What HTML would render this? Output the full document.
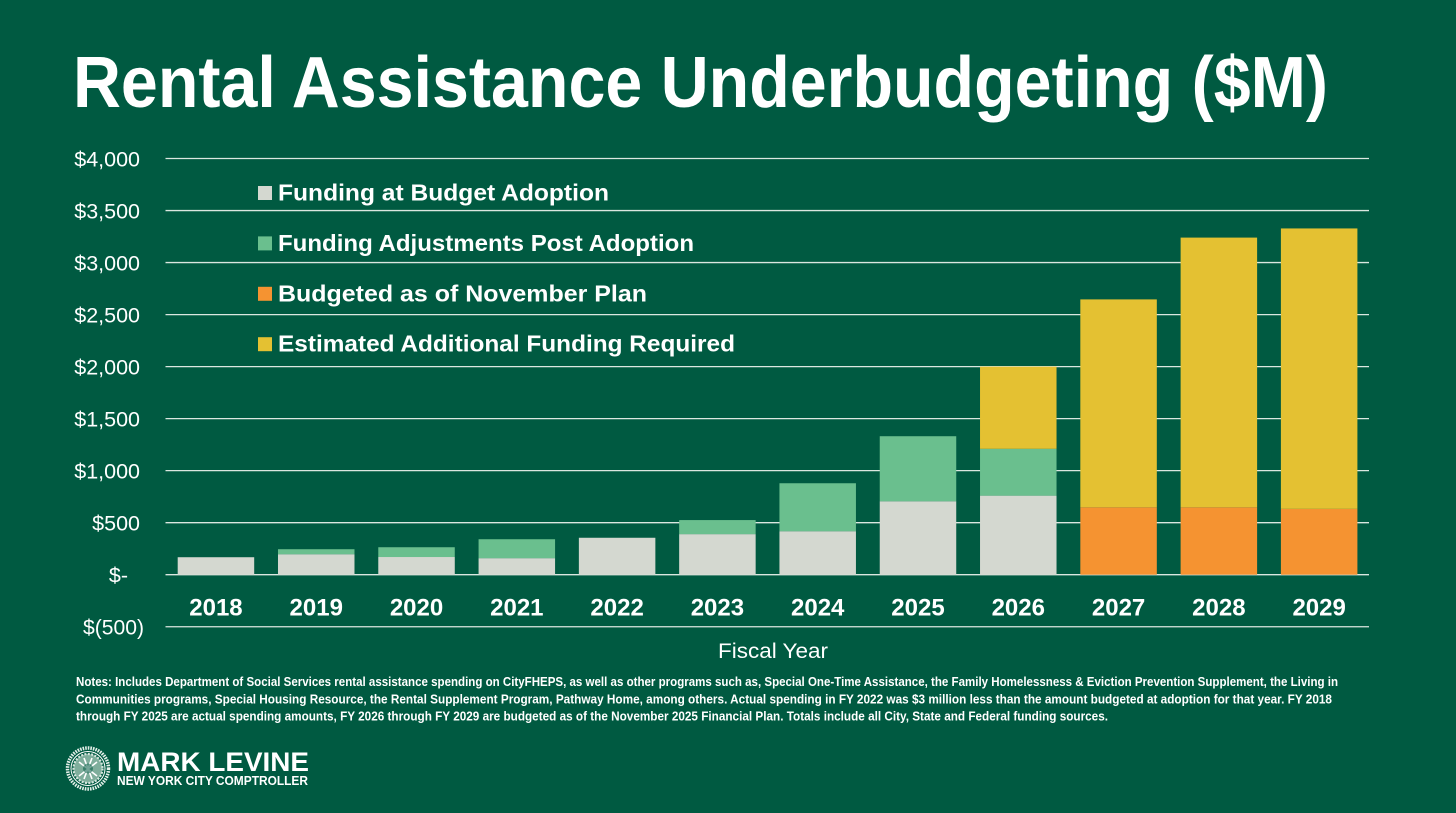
<!DOCTYPE html>
<html lang="en">
<head>
<meta charset="utf-8">
<title>Rental Assistance Underbudgeting ($M)</title>
<style>
  html, body { margin: 0; padding: 0; background: #005a41; }
  body { width: 1456px; height: 813px; overflow: hidden; }
  svg { display: block; }
  text { font-family: "Liberation Sans", sans-serif; fill: #ffffff; }
</style>
</head>
<body>
<svg id="slide" width="1456" height="813" viewBox="0 0 1456 813" xmlns="http://www.w3.org/2000/svg">
  <rect x="0" y="0" width="1456" height="813" fill="#005a41"/>
  <text x="73" y="107" font-size="72" font-weight="700" textLength="1255" lengthAdjust="spacingAndGlyphs">Rental Assistance Underbudgeting ($M)</text>

  <g id="grid"></g>
  <g id="yaxis"></g>
  <g id="bars"></g>
  <g id="xaxis"></g>
  <g id="legend"></g>

  <text x="773" y="658" font-size="21" text-anchor="middle" textLength="110" lengthAdjust="spacingAndGlyphs">Fiscal Year</text>

  <g font-size="12.5" font-weight="700" style="white-space:pre">
    <text x="76" y="686" textLength="1262" lengthAdjust="spacingAndGlyphs">Notes: Includes Department of Social Services rental assistance spending on CityFHEPS, as well as other programs such as, Special One-Time Assistance, the Family Homelessness &amp; Eviction Prevention Supplement, the Living in</text>
    <text x="76" y="703.5" textLength="1256" lengthAdjust="spacingAndGlyphs">Communities programs, Special Housing Resource, the Rental Supplement Program, Pathway Home, among others. Actual spending in FY 2022 was $3 million less than the amount budgeted at adoption for that year.  FY 2018</text>
    <text x="76" y="720.5" textLength="1032" lengthAdjust="spacingAndGlyphs">through FY 2025  are actual spending amounts, FY 2026 through FY 2029 are budgeted as of the November 2025 Financial Plan. Totals include all City, State and Federal funding sources.</text>
  </g>

  <g>
    <circle cx="88" cy="768.5" r="20.5" fill="none" stroke="#e4efe9" stroke-width="3.5" stroke-dasharray="1.6 1"/>
    <circle cx="88" cy="768.5" r="17" fill="none" stroke="#ffffff" stroke-width="1"/>
    <circle cx="88" cy="768.5" r="14.5" fill="#7fae9c" stroke="#d6e6de" stroke-width="2.2" stroke-dasharray="2 1.4"/>
    <path d="M79 762 L97 776 M97 762 L79 776 M84 758 L92 779 M92 758 L84 779" stroke="#ffffff" stroke-width="1.6" fill="none"/>
    <circle cx="88" cy="768.5" r="5" fill="#005a41" opacity="0.55"/>
  </g>
  <text x="117" y="771" font-size="27" font-weight="700" textLength="192" lengthAdjust="spacingAndGlyphs">MARK LEVINE</text>
  <text x="117" y="785" font-size="12.5" font-weight="700" textLength="191" lengthAdjust="spacingAndGlyphs">NEW YORK CITY COMPTROLLER</text>
</svg>

<script>
const fiscalYears = ['2018','2019','2020','2021','2022','2023','2024','2025','2026','2027','2028','2029'];
const fundingAtAdoption = [168,197,170,159,355,390,418,706,760,0,0,0];
const fundingAdjustments = [0,48,94,182,0,135,461,625,450,0,0,0];
const budgetedNovemberPlan = [0,0,0,0,0,0,0,0,0,648,648,633];
const additionalRequired = [0,0,0,0,0,0,0,0,790,1998,2592,2695];
const yTickValues = [4000,3500,3000,2500,2000,1500,1000,500,0,-500];
const yTickLabels = ['$4,000','$3,500','$3,000','$2,500','$2,000','$1,500','$1,000','$500','$-','$(500)'];
const legendLabels = ['Funding at Budget Adoption','Funding Adjustments Post Adoption','Budgeted as of November Plan','Estimated Additional Funding Required'];
const legendWidths = [331,416,369,457];

const SVGNS = 'http://www.w3.org/2000/svg';
const colors = ['#d4d8d0','#6abf8e','#f59331','#e4c132'];
const stacks = [fundingAtAdoption, fundingAdjustments, budgetedNovemberPlan, additionalRequired];
const seriesKeys = ['adoption','adjustment','november-plan','additional'];

const plotLeft = 165.5, plotRight = 1369;
const yZero = 574.7, pxPerDollar = (626.7 - 158.5) / 4500;
const band = (plotRight - plotLeft) / fiscalYears.length;
const barWidth = 76.5;

function yScale(v) { return yZero - v * pxPerDollar; }
function xCenter(i) { return plotLeft + band * (i + 0.5) + 0.3; }

function make(tag, attrs, parent, content) {
  const el = document.createElementNS(SVGNS, tag);
  for (const k in attrs) el.setAttribute(k, attrs[k]);
  if (content !== undefined) el.textContent = content;
  parent.appendChild(el);
  return el;
}

const grid = document.getElementById('grid');
const yaxis = document.getElementById('yaxis');
yTickValues.forEach(function (v, i) {
  const y = yScale(v);
  const line = make('line', {x1: plotLeft, x2: plotRight, y1: y, y2: y, stroke: '#dbe7e0', 'stroke-width': 1.3}, grid);
  
  
  const xEnd = v < 0 ? 144 : (v === 0 ? 128 : 140);
  const label = make('text', {x: xEnd, y: y + 8, 'font-size': 21.5, 'text-anchor': 'end'}, yaxis, yTickLabels[i]);
  
  
  if (v < 0) {
    label.setAttribute('textLength', '61');
    label.setAttribute('lengthAdjust', 'spacingAndGlyphs');
  }
});

const bars = document.getElementById('bars');
fiscalYears.forEach(function (year, i) {
  let base = 0;
  stacks.forEach(function (series, s) {
    const value = series[i];
    if (!value) return;
    const top = yScale(base + value);
    const bottom = yScale(base);
    const rect = make('rect', {x: xCenter(i) - barWidth / 2, y: top, width: barWidth, height: bottom - top, fill: colors[s]}, bars);
    
    
    base += value;
  });
});

const xaxis = document.getElementById('xaxis');
fiscalYears.forEach(function (year, i) {
  const label = make('text', {x: xCenter(i), y: 615.5, 'font-size': 24, 'font-weight': 700, 'text-anchor': 'middle'}, xaxis, year);
  
  
});

const legend = document.getElementById('legend');
legendLabels.forEach(function (text, i) {
  const cy = 193 + i * 50.4;
  const swatch = make('rect', {x: 258, y: cy - 7, width: 14, height: 14, fill: colors[i]}, legend);
  
  
  const label = make('text', {x: 278, y: cy + 7.5, 'font-size': 23.5, 'font-weight': 700, textLength: legendWidths[i], lengthAdjust: 'spacingAndGlyphs'}, legend, text);
  
  
});
</script>
</body>
</html>
